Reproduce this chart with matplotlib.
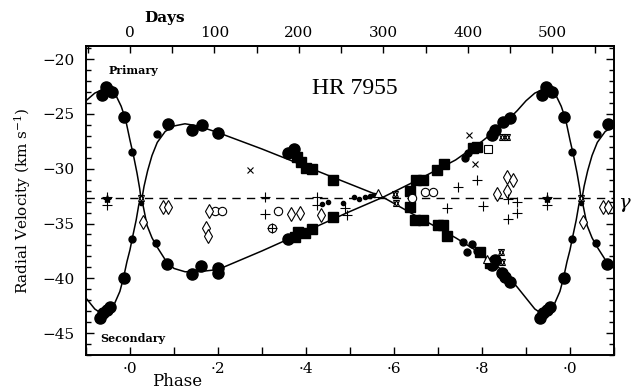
import numpy as np
import matplotlib
matplotlib.use("Agg")
import matplotlib.pyplot as plt
from matplotlib.ticker import MultipleLocator, FixedLocator, FixedFormatter

plt.rcParams['font.family'] = ['DejaVu Serif']
plt.rcParams['mathtext.fontset'] = 'dejavuserif'

PERIOD = 521.0      # days
GAMMA = -32.7       # km/s

# orbit curves, one cycle (phase 0..1)
prim_curve_ph = [0.000, 0.008, 0.016, 0.022, 0.026, 0.032, 0.040, 0.050, 0.062, 0.080,
                 0.100, 0.125, 0.155, 0.200, 0.300, 0.400, 0.500, 0.575, 0.650, 0.740,
                 0.800, 0.850, 0.880, 0.900, 0.920, 0.942, 0.955, 0.968, 0.980, 0.990, 1.000]
prim_curve_v = [-27.4, -28.8, -30.4, -31.8, -33.0, -31.6, -30.2, -28.8, -27.6, -26.6,
                -26.1, -25.9, -26.1, -26.7, -28.2, -29.8, -31.4, -32.6, -31.1, -29.2,
                -27.5, -25.9, -24.7, -23.8, -23.1, -22.7, -22.8, -23.3, -24.3, -25.5, -27.4]

sec_curve_ph = [0.000, 0.005, 0.014, 0.020, 0.026, 0.030, 0.039, 0.050, 0.061, 0.080,
                0.100, 0.125, 0.155, 0.200, 0.300, 0.400, 0.500, 0.575, 0.650, 0.740,
                0.800, 0.850, 0.880, 0.900, 0.920, 0.942, 0.955, 0.965, 0.977, 0.985, 0.993, 1.000]
sec_curve_v = [-37.4, -36.4, -34.7, -33.3, -32.5, -33.4, -35.2, -36.3, -37.1, -38.3,
               -39.1, -39.4, -39.4, -39.2, -37.5, -35.7, -33.9, -32.6, -34.3, -36.3,
               -37.8, -39.4, -40.8, -41.8, -42.8, -43.4, -43.0, -42.3, -41.2, -40.0, -38.5, -37.4]

# primary measurements
prim_big_ph = [0.936, 0.945, 0.959, 0.950, 0.986, 0.086, 0.141, 0.164, 0.200, 0.359, 0.373,
               0.823, 0.830, 0.848, 0.864]
prim_big_v = [-23.3, -22.5, -23.0, -22.8, -25.3, -25.9, -26.5, -26.0, -26.75, -28.6, -28.2,
              -26.9, -26.5, -25.7, -25.4]
prim_small_ph = [0.005, 0.061, 0.761, 0.768]
prim_small_v = [-28.5, -26.8, -29.0, -28.6]
prim_sq_ph = [0.380, 0.389, 0.400, 0.414, 0.461, 0.636, 0.650, 0.666, 0.698, 0.714, 0.780, 0.789]
prim_sq_v = [-28.9, -29.4, -29.9, -30.0, -31.0, -32.0, -31.0, -31.0, -30.1, -29.6, -28.1, -28.0]

# secondary measurements
sec_big_ph = [0.932, 0.939, 0.948, 0.955, 0.986, 0.084, 0.141, 0.161, 0.200, 0.200, 0.359,
              0.823, 0.830, 0.845, 0.852, 0.864]
sec_big_v = [-43.6, -43.2, -42.9, -42.6, -40.0, -38.7, -39.6, -38.9, -39.1, -39.5, -36.4,
             -38.8, -38.3, -39.5, -39.9, -40.3]
sec_small_ph = [0.005, 0.059, 0.757, 0.766, 0.777, 0.789]
sec_small_v = [-36.4, -36.8, -36.7, -37.6, -36.9, -37.5]
sec_sq_ph = [0.375, 0.382, 0.398, 0.414, 0.461, 0.636, 0.648, 0.666, 0.700, 0.711, 0.720, 0.795, 0.818]
sec_sq_v = [-36.2, -35.8, -35.9, -35.5, -34.4, -33.5, -34.7, -34.7, -35.1, -35.1, -36.1, -37.6, -38.6]

# blended / other sources
dot_ph = [0.025, 0.436, 0.450, 0.484, 0.509, 0.520, 0.534, 0.545, 0.555]
dot_v = [-33.1, -33.2, -33.0, -33.1, -32.6, -32.8, -32.6, -32.5, -32.4]
star_ph = [0.845, 0.857, 0.843, 0.846, 0.025, 0.602, 0.605]
star_v = [-27.1, -27.1, -37.6, -38.5, -32.7, -32.3, -33.1]
osq_ph = [0.814]
osq_v = [-28.2]
tri_ph = [0.564, 0.812]
tri_v = [-32.2, -38.2]
cross_ph = [0.273, 0.770, 0.784]
cross_v = [-30.1, -26.9, -29.6]
circ_ph = [0.193, 0.209, 0.336, 0.641, 0.670, 0.689, 0.323]
circ_v = [-33.9, -33.9, -33.9, -32.7, -32.1, -32.1, -35.4]
diam_ph = [0.030, 0.075, 0.086, 0.180, 0.173, 0.177, 0.365, 0.386, 0.434, 0.834, 0.857, 0.871, 0.857]
diam_v = [-34.9, -33.5, -33.5, -33.9, -35.4, -36.1, -34.1, -34.0, -34.2, -32.3, -30.8, -31.0, -32.0]
plus_ph = [0.948, 0.948, 0.307, 0.307, 0.323, 0.425, 0.425, 0.489, 0.493, 0.720, 0.745, 0.789,
           0.802, 0.859, 0.880, 0.859, 0.880]
plus_v = [-32.6, -33.3, -32.6, -34.1, -35.4, -32.6, -33.3, -33.6, -34.2, -33.6, -31.7, -31.0,
          -33.4, -32.8, -33.0, -34.6, -34.0]
ast_ph = [0.948]
ast_v = [-32.8]

day_ticks = [0, 100, 200, 300, 400, 500]


def rep(ph, v):
    # repeat one cycle so that it covers phase -0.1 .. 1.1
    ph = np.asarray(ph, float)
    v = np.asarray(v, float)
    return np.concatenate([ph - 1, ph, ph + 1]), np.tile(v, 3)


fig = plt.figure(figsize=(6.34, 3.91), dpi=100)
ax = fig.add_axes([0.1356, 0.092, 0.8329, 0.7904])

ax.axhline(GAMMA, color='black', lw=1.0, dashes=(6, 4.5), zorder=1)

x, y = rep(prim_curve_ph, prim_curve_v)
ax.plot(x, y, color='black', lw=1.1, zorder=2)
x, y = rep(sec_curve_ph, sec_curve_v)
ax.plot(x, y, color='black', lw=1.1, zorder=2)

k = dict(ls='none', color='black', zorder=3)
for ph, v in [(prim_big_ph, prim_big_v), (sec_big_ph, sec_big_v)]:
    ax.plot(*rep(ph, v), marker='o', ms=8, **k)
for ph, v in [(prim_small_ph, prim_small_v), (sec_small_ph, sec_small_v)]:
    ax.plot(*rep(ph, v), marker='o', ms=5, **k)
for ph, v in [(prim_sq_ph, prim_sq_v), (sec_sq_ph, sec_sq_v)]:
    ax.plot(*rep(ph, v), marker='s', ms=6.5, **k)
ax.plot(*rep(dot_ph, dot_v), marker='o', ms=3, **k)

o = dict(ls='none', color='black', mfc='white', mew=0.8, zorder=4)
ax.plot(*rep(star_ph, star_v), marker='^', ms=5, **o)
ax.plot(*rep(star_ph, star_v), marker='v', ms=5, ls='none', color='black', mfc='none', mew=0.8, zorder=4)
ax.plot(*rep(osq_ph, osq_v), marker='s', ms=6, **o)
ax.plot(*rep(tri_ph, tri_v), marker='^', ms=6, **o)
ax.plot(*rep(circ_ph, circ_v), marker='o', ms=6, **o)
ax.plot(*rep(diam_ph, diam_v), marker='d', ms=7, **o)
ax.plot(*rep(cross_ph, cross_v), marker='x', ms=5, ls='none', color='black', mew=0.8, zorder=4)
ax.plot(*rep(plus_ph, plus_v), marker='+', ms=7, ls='none', color='black', mew=0.8, zorder=5)
ax.plot(*rep(ast_ph, ast_v), marker='*', ms=6, ls='none', color='black', zorder=5)

ax.set_xlim(-0.1, 1.1)
ax.set_ylim(-47, -18.8)

ax.xaxis.set_major_locator(FixedLocator([0, 0.2, 0.4, 0.6, 0.8, 1.0]))
ax.xaxis.set_major_formatter(FixedFormatter(['·0', '·2', '·4', '·6', '·8', '·0']))
ax.xaxis.set_minor_locator(MultipleLocator(0.1))
ax.yaxis.set_major_locator(MultipleLocator(5))
ax.yaxis.set_minor_locator(MultipleLocator(1))
ax.tick_params(which='both', direction='in', top=False, right=True, width=1)
ax.tick_params(which='major', length=6, labelsize=11)
ax.tick_params(which='minor', length=3.5)
ax.tick_params(axis='x', which='minor', length=6)
ax.tick_params(axis='y', pad=8)
ax.tick_params(axis='x', pad=5)
for s in ax.spines.values():
    s.set_linewidth(1.4)

top = ax.secondary_xaxis('top', functions=(lambda p: p * PERIOD, lambda d: d / PERIOD))
top.xaxis.set_major_locator(FixedLocator(day_ticks))
top.xaxis.set_minor_locator(FixedLocator([d + 50 for d in day_ticks] + [-50]))
top.tick_params(which='both', direction='in', length=5, width=1, labelsize=11, pad=4)
top.spines['top'].set_linewidth(1.4)

ax.set_ylabel('Radial Velocity (km s$^{-1}$)', fontsize=11)
ax.yaxis.set_label_coords(-0.10, 0.5)
fig.text(177 / 634, 1 - 382 / 391, 'Phase', fontsize=12, ha='center', va='center')
fig.text(165 / 634, 1 - 18 / 391, 'Days', fontsize=11, fontweight='bold', ha='center', va='center')
fig.text(625 / 634, 1 - 205 / 391, r'$\gamma$', fontsize=14, ha='center', va='center')

ax.text(0.51, 0.864, 'HR 7955', transform=ax.transAxes, fontsize=17,
        family='Liberation Serif', ha='center', va='center')
ax.text(0.089, 0.922, 'Primary', transform=ax.transAxes, fontsize=8,
        fontweight='bold', ha='center', va='center')
ax.text(0.089, 0.055, 'Secondary', transform=ax.transAxes, fontsize=8,
        fontweight='bold', ha='center', va='center')

fig.savefig('out.png', dpi=100)
